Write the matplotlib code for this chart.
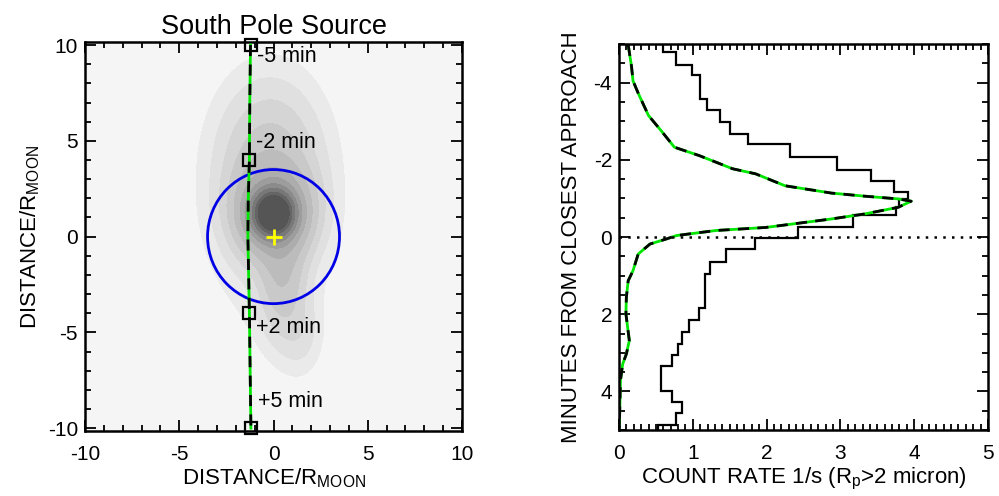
import numpy as np
import matplotlib
matplotlib.use("Agg")
import matplotlib.pyplot as plt
from matplotlib.patches import Circle
from matplotlib.ticker import MultipleLocator

plt.rcParams["font.family"] = ["Liberation Sans", "DejaVu Sans"]
plt.rcParams["mathtext.default"] = "regular"
plt.rcParams["axes.unicode_minus"] = False

# --- left panel: plume model, built from a few gaussian pieces ---
blob_x = [0.0, 0.0, -0.2, 0.45, 1.4, -0.2]
blob_y = [1.2, 1.3, 3.7, -2.0, -5.0, 1.2]
blob_sx = [0.7, 1.15, 1.6, 0.75, 0.7, 2.1]
blob_sy = [0.75, 1.4, 2.5, 1.9, 1.3, 3.9]
blob_amp = [1.0, 0.35, 0.085, 0.1, 0.025, 0.022]
plume_levels = [0.008, 0.02, 0.04, 0.07, 0.12, 0.2, 0.3, 0.42, 0.55, 0.7, 0.85, 10]
plume_grays = ["#eaeaea", "#e0e0e0", "#d5d5d5", "#c9c9c9", "#bcbcbc", "#adadad",
               "#9d9d9d", "#8b8b8b", "#787878", "#656565", "#555555"]

# spacecraft track and time marks
track_x = [-1.22, -1.26, -1.28, -1.34, -1.36, -1.32, -1.28, -1.24, -1.20]
track_y = [10.0, 7.0, 4.0, 2.0, 0.0, -2.0, -4.0, -7.0, -10.0]
mark_x = [-1.22, -1.28, -1.28, -1.20]
mark_y = [10.0, 4.0, -4.0, -10.0]
mark_text = ["-5 min", "-2 min", "+2 min", "+5 min"]
text_y = [9.4, 4.9, -4.75, -8.6]
moon_r = 3.5

# --- right panel: measured count rate (histogram) and model curve ---
hist_edges = [-5.0, -4.80, -4.47, -4.19, -3.57, -3.29, -2.98, -2.66, -2.42, -2.08,
              -1.73, -1.46, -1.17, -0.99, -0.77, -0.56, -0.26, 0.02, 0.32, 0.64,
              0.95, 1.84, 2.16, 2.45, 2.78, 3.06, 3.35, 3.98, 4.28, 4.56, 4.88, 5.0]
hist_rate = [0.60, 0.77, 0.99, 1.10, 1.19, 1.37, 1.51, 1.75, 2.32, 2.96,
             3.42, 3.73, 3.92, 3.80, 3.75, 3.17, 2.42, 1.84, 1.45, 1.24,
             1.16, 1.08, 0.95, 0.86, 0.80, 0.72, 0.57, 0.72, 0.86, 0.77, 0.53]
model_min = [-4.98, -4.42, -4.05, -3.73, -3.15, -2.76, -2.33, -2.11, -1.77, -1.64,
             -1.33, -1.14, -1.06, -0.99, -0.93, -0.77, -0.60, -0.47, -0.25, -0.17,
             -0.04, 0.05, 0.18, 0.44, 0.87, 1.13, 1.56, 1.99, 2.68, 3.03, 3.29,
             3.72, 4.93]
model_rate = [0.125, 0.17, 0.19, 0.26, 0.40, 0.57, 0.75, 1.09, 1.54, 1.85,
              2.25, 2.88, 3.33, 3.78, 3.96, 3.78, 3.33, 2.88, 1.99, 1.31,
              0.78, 0.64, 0.42, 0.26, 0.19, 0.125, 0.10, 0.094, 0.14, 0.10, 0.05,
              0.02, 0.005]

fig = plt.figure(figsize=(9.99, 4.96), dpi=100)
ax1 = fig.add_axes([0.0851, 0.131, 0.3774, 0.784])
ax2 = fig.add_axes([0.6196, 0.133, 0.3694, 0.778])

# left panel
gx = np.linspace(-10, 10, 401)
X, Y = np.meshgrid(gx, gx)
Z = np.zeros_like(X)
for bx, by, sx, sy, a in zip(blob_x, blob_y, blob_sx, blob_sy, blob_amp):
    Z += a * np.exp(-0.5 * (((X - bx) / sx) ** 2 + ((Y - by) / sy) ** 2))
ax1.set_facecolor("#f5f5f5")
ax1.contourf(X, Y, Z, levels=plume_levels, colors=plume_grays)
ax1.add_patch(Circle((0, 0), moon_r, fill=False, ec="#0000e6", lw=2, zorder=3))
ax1.plot([0], [0], marker="+", color="#ffff00", ms=11, mew=2, zorder=4)
ax1.plot(track_x, track_y, color="#00e600", lw=2, zorder=4)
ax1.plot(track_x, track_y, color="black", lw=2, dashes=(4, 3), zorder=5)
ax1.plot(mark_x, mark_y, ls="none", marker="s", ms=8.5, mfc="none", mec="black",
         mew=1.6, zorder=6, clip_on=False)
for mx, ty, t in zip(mark_x, text_y, mark_text):
    ax1.text(mx + 0.35, ty, t, fontsize=15.5, va="center", ha="left", zorder=6)
ax1.set_xlim(-10, 10)
ax1.set_ylim(-10.15, 10.15)
ax1.xaxis.set_major_locator(MultipleLocator(5))
ax1.yaxis.set_major_locator(MultipleLocator(5))
ax1.xaxis.set_minor_locator(MultipleLocator(1))
ax1.yaxis.set_minor_locator(MultipleLocator(1))
ax1.set_title("South Pole Source", fontsize=19.5, pad=6)
ax1.set_xlabel("DISTANCE/R$_{MOON}$", fontsize=16, labelpad=2)
ax1.set_ylabel("DISTANCE/R$_{MOON}$", fontsize=16, labelpad=4)

# right panel
ax2.stairs(hist_rate, hist_edges, orientation="horizontal", baseline=None,
           color="black", lw=1.6)
ax2.plot(model_rate, model_min, color="#00e600", lw=2)
ax2.plot(model_rate, model_min, color="black", lw=2, dashes=(4, 3))
ax2.axhline(0, color="black", lw=1.8, ls=(0, (1, 2.5)))
ax2.set_xlim(0, 5)
ax2.set_ylim(5, -5)
ax2.xaxis.set_major_locator(MultipleLocator(1))
ax2.xaxis.set_minor_locator(MultipleLocator(0.1))
ax2.yaxis.set_major_locator(MultipleLocator(2))
ax2.yaxis.set_minor_locator(MultipleLocator(0.5))
ax2.set_xlabel("COUNT RATE 1/s (R$_p$>2 micron)", fontsize=16, labelpad=2)
ax2.set_ylabel("MINUTES FROM CLOSEST APPROACH", fontsize=16, labelpad=8)

for ax in (ax1, ax2):
    ax.tick_params(which="both", direction="in", top=True, right=True,
                   labelsize=15, width=1.3)
    ax.tick_params(which="major", length=8)
    ax.tick_params(which="minor", length=4)
    ax.tick_params(axis="x", pad=10)
    ax.tick_params(axis="y", pad=5)
    for s in ax.spines.values():
        s.set_linewidth(1.8)

fig.savefig("out.png", dpi=100)
